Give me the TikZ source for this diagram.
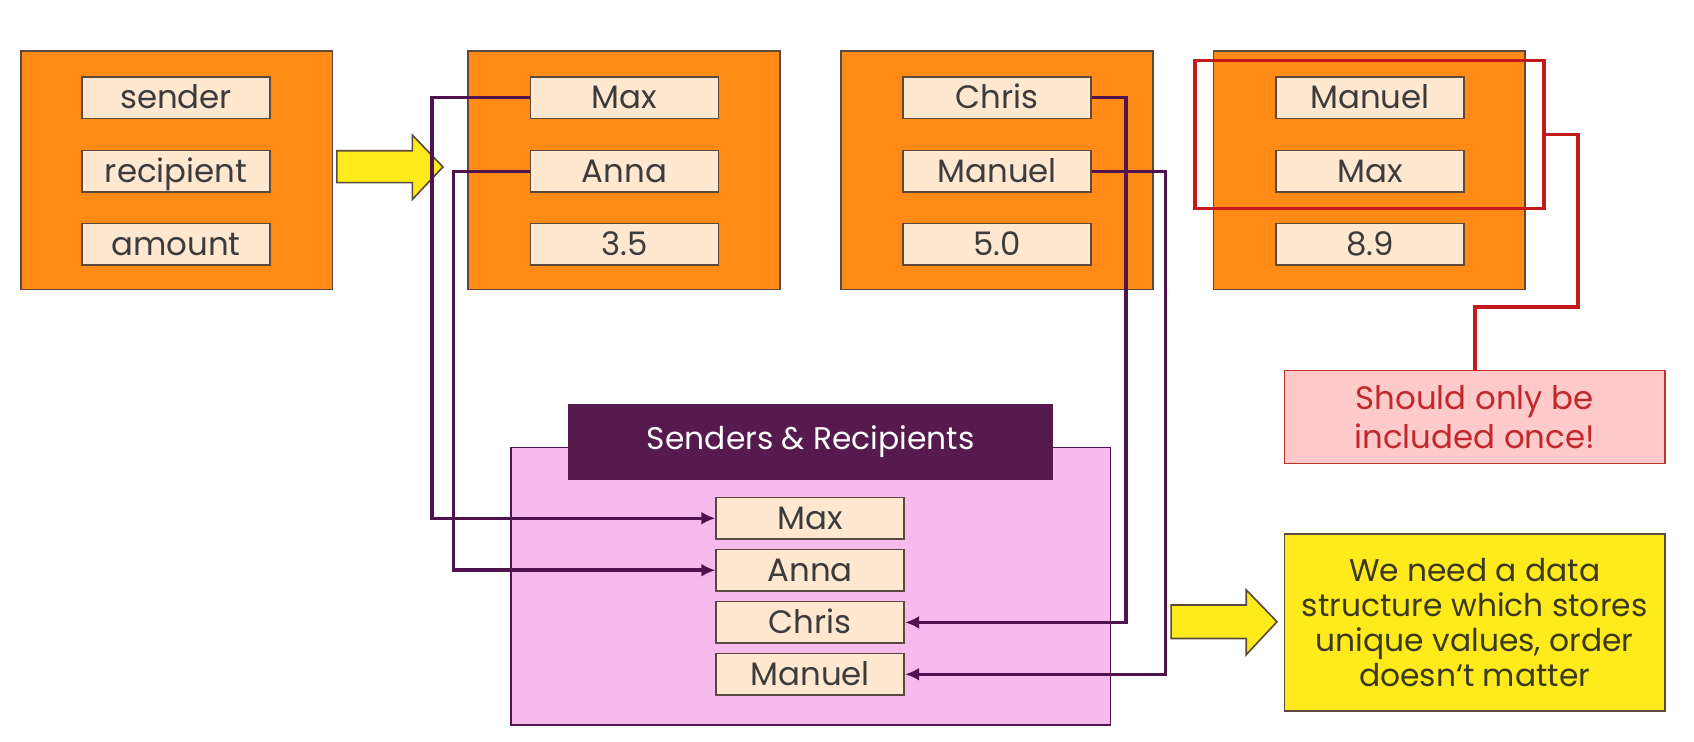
\documentclass[tikz,border=0pt]{standalone}
\usepackage{fontspec}
\setmainfont{Poppins}
\usetikzlibrary{arrows.meta}
\definecolor{orangeC}{HTML}{FF8A15}
\definecolor{boxline}{HTML}{5B4A3C}
\definecolor{peach}{HTML}{FFE7D0}
\definecolor{txt}{HTML}{3C3C3C}
\definecolor{setpink}{HTML}{F6BAEE}
\definecolor{plum}{HTML}{561A4E}
\definecolor{conncol}{HTML}{4F1450}
\definecolor{hired}{HTML}{C41A1E}
\definecolor{notefill}{HTML}{FFCACA}
\definecolor{noteline}{HTML}{C4302B}
\definecolor{notetxt}{HTML}{C2272D}
\definecolor{yel}{HTML}{FFEB1C}
\definecolor{yeltxt}{HTML}{3B3A1E}
\begin{document}
\begin{tikzpicture}[x=1pt,y=-1pt,
  outerbox/.style={fill=orangeC,draw=boxline,line width=1.5pt,minimum width=288.5pt,minimum height=220.5pt,inner sep=0pt},
  field/.style={fill=peach,draw=boxline,line width=1.5pt,minimum width=174pt,minimum height=38.5pt,inner sep=0pt,
    text=txt,font=\fontsize{30}{36}\selectfont,text height=26pt,text depth=5pt},
  conn/.style={draw=conncol,line width=3.2pt,-{Latex[length=13pt,width=12pt]}},
  redline/.style={draw=hired,line width=3.5pt},
  bigarrow/.style={fill=yel,draw=boxline,line width=1.5pt,line join=miter}]
\useasboundingbox[fill=white] (0,0) rectangle (1568,686);

% record boxes
\node[outerbox] (o1) at (163.5,157.7) {};
\node[outerbox] (o2) at (577.7,157.7) {};
\node[outerbox] (o3) at (922.8,157.7) {};
\node[outerbox] (o4) at (1267.5,157.7) {};

\node[field] (a1) at (163,90.3) {sender};
\node[field] (a2) at (163,158.7) {recipient};
\node[field] (a3) at (163,226.1) {amount};

\node[field] (b1) at (578,90.3) {Max};
\node[field] (b2) at (578,158.7) {Anna};
\node[field] (b3) at (578,226.1) {3.5};

\node[field] (c1) at (923,90.3) {Chris};
\node[field] (c2) at (923,158.7) {Manuel};
\node[field] (c3) at (923,226.1) {5.0};

\node[field] (d1) at (1268,90.3) {Manuel};
\node[field] (d2) at (1268,158.7) {Max};
\node[field] (d3) at (1268,226.1) {8.9};

% yellow arrow between first two records
\draw[bigarrow] (311.8,139.5) -- (381.7,139.5) -- (381.7,125) -- (410,154.5) -- (381.7,184.6) -- (381.7,169) -- (311.8,169) -- cycle;

% duplicate highlight
\node[draw=hired,line width=3.5pt,minimum width=323pt,minimum height=137pt,inner sep=0pt] (dup) at (1267.5,124.5) {};

% note
\node[fill=notefill,draw=noteline,line width=1.5pt,minimum width=352pt,minimum height=86pt,inner sep=0pt,
  text=notetxt,align=center,font=\fontsize{30}{35.5}\selectfont] (note) at (1365,386) {Should only be\\included once!};
\draw[redline] (dup.east) -- ++(30,0) -- ++(0,159.5) -| (note.north);

% set container
\node[fill=setpink,draw=conncol,line width=1.3pt,minimum width=555pt,minimum height=257pt,inner sep=0pt] (set) at (750.5,542.5) {};
\node[fill=plum,minimum width=449pt,minimum height=70pt,inner sep=0pt,text=white,
  font=\fontsize{29}{34}\selectfont] (head) at (750.5,409) {Senders \& Recipients};

\node[field] (s1) at (750,479.7) {Max};
\node[field] (s2) at (750,527.8) {Anna};
\node[field] (s3) at (750,576.1) {Chris};
\node[field] (s4) at (750,624.1) {Manuel};

% connectors
\draw[conn] (b1.west) -- ++(-90.4,0) |- (s1.west);
\draw[conn] (b2.west) -- ++(-70.6,0) |- (s2.west);
\draw[conn] (c1.east) -- ++(31.5,0) |- (s3.east);
\draw[conn] (c2.east) -- ++(68,0) |- (s4.east);

% conclusion
\draw[bigarrow] (1084,560) -- (1153.5,560) -- (1153.5,546) -- (1182,575.5) -- (1153.5,606) -- (1153.5,591) -- (1084,591) -- cycle;
\node[fill=yel,draw=boxline,line width=1.5pt,minimum width=352pt,minimum height=164pt,inner sep=0pt,
  text=yeltxt,align=center,font=\fontsize{29}{32.5}\selectfont] (concl) at (1365,576) {We need a data\\structure which stores\\unique values, order\\doesn‘t matter};
\end{tikzpicture}
\end{document}
